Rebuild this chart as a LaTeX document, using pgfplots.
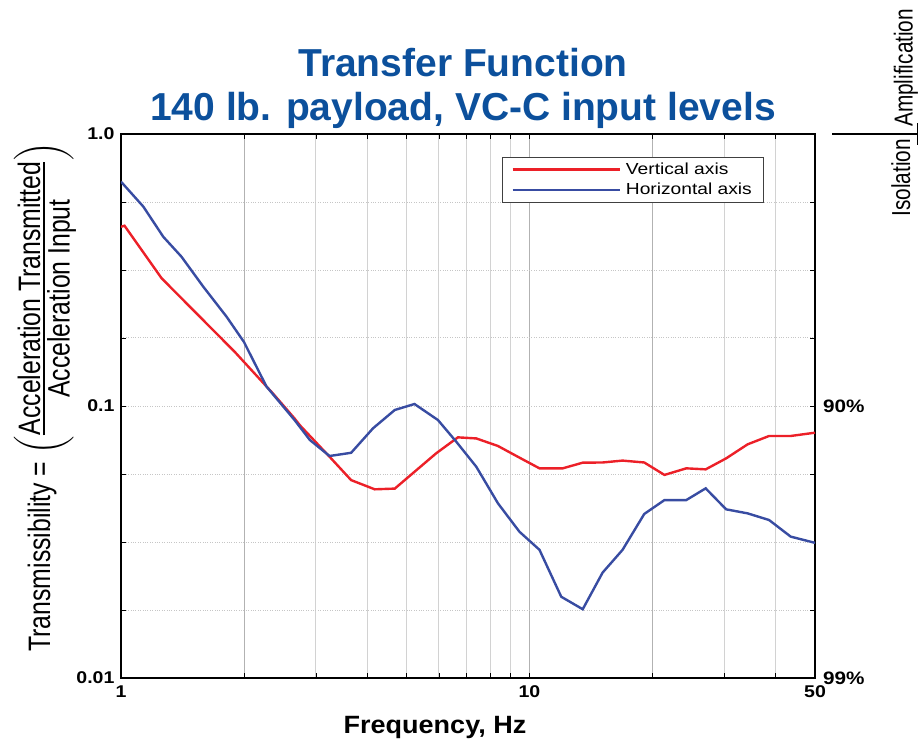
\documentclass[border=0pt]{standalone}
\usepackage{fontspec}
\usepackage{amsmath}
\usepackage{pgfplots}
\pgfplotsset{compat=1.18}
\setmainfont{Liberation Sans}
\newfontfamily\tickfont[FakeStretch=1.15]{Liberation Sans}
\newfontfamily\legfont[FakeStretch=1.2]{Liberation Sans}
\newfontfamily\xlabfont[FakeStretch=1.08]{Liberation Sans}
\newfontfamily\condfont[FakeStretch=0.8]{Liberation Sans}
\definecolor{titleblue}{RGB}{12,80,156}
\definecolor{cred}{RGB}{236,32,40}
\definecolor{cblue}{RGB}{56,76,162}
\begin{document}
\begin{tikzpicture}[x=1pt,y=1pt]
\begin{axis}[
  at={(0,0)}, anchor=south west,
  scale only axis, width=694pt, height=544pt,
  xmode=log, ymode=log,
  xmin=1, xmax=50, ymin=0.01, ymax=1,
  xtick={1,10,50}, xticklabels={1,10,50},
  minor xtick={3,4,5,6,7,8,9,30,40},
  extra x ticks={2,20}, extra x tick labels={},
  extra x tick style={xmajorgrids, major x grid style={gray!60, line width=0.8pt}},
  ytick={0.01,0.1,1}, yticklabels={0.01,0.1,1.0},
  minor ytick={0.0178,0.0316,0.0562,0.178,0.316,0.562},
  xmajorgrids, xminorgrids, ymajorgrids, yminorgrids,
  major x grid style={gray!60, line width=0.8pt},
  minor x grid style={gray!35, line width=0.8pt},
  major y grid style={gray!45, dotted, line width=0.8pt},
  minor y grid style={gray!45, dotted, line width=0.8pt},
  tick align=inside, major tick length=5pt, minor tick length=5pt,
  tick style={black, line width=0.6pt},
  axis line style={line width=1.1pt},
  ticklabel style={font=\tickfont\bfseries\fontsize{17}{17}\selectfont},
  xticklabel style={yshift=-4pt},
  yticklabel style={xshift=-3pt},
  legend style={at={(0.549,0.958)}, anchor=north west, draw=black!75, line width=0.7pt,
    font=\legfont\fontsize{16}{17}\selectfont, inner xsep=9pt, inner ysep=4pt,
    row sep=3pt, cells={anchor=west}, nodes={inner sep=2pt},
    /tikz/every odd column/.append style={column sep=3pt}},
  legend image code/.code={\draw[#1, line width=2.6pt] (0pt,0pt) -- (107pt,0pt);},
]
\addplot[cred, line width=2.4pt] coordinates {
(1,0.456) (1.02,0.46) (1.257,0.295) (1.62,0.201) (1.90,0.158) (2.357,0.111)
(2.66,0.090) (2.74,0.085) (3.24,0.0651) (3.66,0.0534) (4.18,0.0494) (4.68,0.0497)
(5.23,0.0573) (5.91,0.067) (6.68,0.0767) (7.41,0.076) (8.37,0.0713) (9.36,0.0651)
(10.58,0.059) (12.06,0.059) (13.5,0.0619) (15.1,0.062) (16.9,0.063) (19.1,0.062)
(21.4,0.0558) (24.2,0.059) (27.0,0.0585) (30.3,0.0642) (34.2,0.0723) (38.6,0.0776)
(43.6,0.0776) (50,0.0798)};
\addlegendentry{Vertical axis}
\addplot[cblue, line width=2.4pt] coordinates {
(1,0.668) (1.134,0.541) (1.269,0.419) (1.406,0.354) (1.589,0.275) (1.813,0.213)
(2.0,0.172) (2.27,0.118) (2.66,0.0888) (2.90,0.075) (3.24,0.0655) (3.66,0.0673)
(4.14,0.0828) (4.68,0.0967) (5.23,0.1017) (5.97,0.0888) (6.62,0.0739) (7.41,0.0598)
(8.37,0.0439) (9.45,0.0345) (10.58,0.0296) (11.96,0.0199) (13.5,0.0179) (15.1,0.0244)
(16.9,0.0296) (19.1,0.0401) (21.4,0.0451) (24.2,0.0451) (27.0,0.0498) (30.3,0.0417)
(34.2,0.0403) (38.6,0.0381) (43.6,0.0331) (50,0.0314)};
\addlegendentry{Horizontal axis}
\end{axis}
\node[anchor=west, inner sep=0pt, font=\tickfont\bfseries\fontsize{18}{18}\selectfont] at (702,272) {90\%};
\node[anchor=west, inner sep=0pt, font=\tickfont\bfseries\fontsize{18}{18}\selectfont] at (702,0) {99\%};
\node[anchor=base, text=titleblue, font=\bfseries\fontsize{39}{39}\selectfont] at (342,601) {Transfer Function};
\node[anchor=base, text=titleblue, font=\bfseries\fontsize{39}{39}\selectfont] at (342,557) {140 lb. payload, VC-C input levels};
\node[anchor=base, font=\xlabfont\bfseries\fontsize{25}{25}\selectfont] at (314,-55) {Frequency, Hz};
\node[rotate=90, inner sep=0pt] at (-76,281) {\condfont\fontsize{31}{31}\selectfont Transmissibility = $\left(\genfrac{}{}{2.2pt}{1}{\mbox{\condfont Acceleration Transmitted}}{\mbox{\condfont Acceleration Input}}\right)$};
\node[rotate=90, anchor=base west, inner sep=0pt, font=\condfont\fontsize{26}{26}\selectfont] at (791.5,551) {Amplification};
\node[rotate=90, anchor=base east, inner sep=0pt, font=\condfont\fontsize{26}{26}\selectfont] at (789,539) {Isolation};
\draw[line width=1.2pt] (711,544) -- (797,544);
\draw[line width=1.2pt] (796.5,533) -- (796.5,555);
\pgfresetboundingbox
\path[use as bounding box] (-121,-62) rectangle (798,678);
\end{tikzpicture}
\end{document}
